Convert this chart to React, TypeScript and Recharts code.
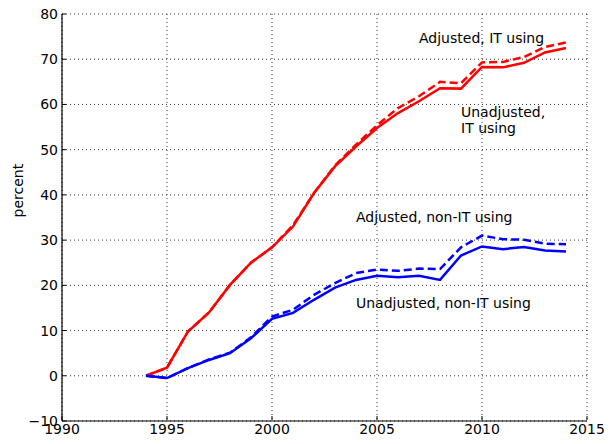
import { LineChart, Line, XAxis, YAxis, CartesianGrid, ReferenceDot } from "recharts";

const years = [1994, 1995, 1996, 1997, 1998, 1999, 2000, 2001, 2002, 2003, 2004, 2005, 2006, 2007, 2008, 2009, 2010, 2011, 2012, 2013, 2014];
const itUnadjusted = [0, 1.8, 9.8, 14, 20.1, 25, 28.4, 33, 40.4, 46.3, 50.7, 54.8, 58.1, 60.7, 63.6, 63.5, 68.3, 68.2, 69.2, 71.5, 72.5];
const itAdjusted = [0, 1.8, 9.8, 14, 20.1, 25, 28.4, 33.3, 40.4, 46.5, 51.1, 55.4, 59.2, 61.8, 65, 64.7, 69.3, 69.4, 70.5, 72.7, 73.7];
const nonItUnadjusted = [0, -0.5, 1.7, 3.5, 5, 8.3, 12.6, 13.9, 16.8, 19.5, 21.2, 22.1, 21.8, 22.1, 21.2, 26.6, 28.6, 28, 28.5, 27.7, 27.5];
const nonItAdjusted = [0, -0.5, 1.7, 3.6, 5.1, 8.5, 13.1, 14.6, 17.9, 20.5, 22.7, 23.5, 23.2, 23.7, 23.6, 28.4, 31, 30.2, 30.1, 29.2, 29.1];

const xTicks = [1990, 1995, 2000, 2005, 2010, 2015];
const yTicks = [-10, 0, 10, 20, 30, 40, 50, 60, 70, 80];

const notes = [
  { x: 2007, y: 74.8, text: "Adjusted, IT using" },
  { x: 2009, y: 58.4, text: "Unadjusted," },
  { x: 2009, y: 54.8, text: "IT using" },
  { x: 2004, y: 35.2, text: "Adjusted, non-IT using" },
  { x: 2004, y: 16.1, text: "Unadjusted, non-IT using" },
];

const data = years.map((year, i) => ({
  year,
  itU: itUnadjusted[i],
  itA: itAdjusted[i],
  nU: nonItUnadjusted[i],
  nA: nonItAdjusted[i],
}));

const font = "'DejaVu Sans', sans-serif";

const YTick = (props: any) => {
  const { x, y, payload } = props;
  const v = payload.value as number;
  return (
    <g>
      <line x1={x + 4} x2={x + 8} y1={y} y2={y} stroke="#000" strokeWidth={1} />
      <text x={x} y={y} textAnchor="end" dominantBaseline="central" fontSize={14} fontFamily={font} fill="#000">
        {v < 0 ? "\u2212" + Math.abs(v) : v}
      </text>
    </g>
  );
};

const XTick = (props: any) => {
  const { x, y, payload } = props;
  return (
    <g>
      <line x1={x} x2={x} y1={y - 4} y2={y - 8} stroke="#000" strokeWidth={1} />
      <text x={x} y={y} textAnchor="middle" dominantBaseline="hanging" fontSize={14} fontFamily={font} fill="#000">
        {payload.value}
      </text>
    </g>
  );
};

export default function App() {
  return (
    <div style={{ position: "absolute", left: 0, top: 0, background: "#fff" }}>
      <LineChart width={616} height={444} data={data} margin={{ top: 14, right: 29, bottom: 0, left: 0 }}>
        <CartesianGrid stroke="#000" strokeWidth={0.8} strokeDasharray="1 3" horizontalValues={yTicks} verticalValues={xTicks} />
        <XAxis
          dataKey="year"
          type="number"
          domain={[1990, 2015]}
          ticks={xTicks}
          height={23}
          tickSize={0}
          tickMargin={3}
          tick={<XTick />}
          axisLine={{ stroke: "#000", strokeWidth: 1.2 }}
          tickLine={false}
        />
        <YAxis
          type="number"
          domain={[-10, 80]}
          ticks={yTicks}
          width={62}
          tickSize={0}
          tickMargin={4}
          tick={<YTick />}
          axisLine={{ stroke: "#000", strokeWidth: 1.2 }}
          tickLine={false}
          label={{ value: "percent", angle: -90, position: "insideLeft", offset: 18, fontSize: 14, fontFamily: font, fill: "#000" }}
        />
        <Line dataKey="itA" stroke="#ff0000" strokeWidth={2.5} strokeDasharray="8 4" dot={false} isAnimationActive={false} />
        <Line dataKey="nA" stroke="#0000ff" strokeWidth={2.5} strokeDasharray="8 4" dot={false} isAnimationActive={false} />
        <Line dataKey="itU" stroke="#ff0000" strokeWidth={2.5} dot={false} isAnimationActive={false} />
        <Line dataKey="nU" stroke="#0000ff" strokeWidth={2.5} dot={false} isAnimationActive={false} />
        {notes.map((n) => (
          <ReferenceDot
            key={n.text + n.y}
            x={n.x}
            y={n.y}
            r={0}
            shape={(p: any) => (
              <text x={p.cx} y={p.cy} dominantBaseline="central" fontSize={14} fontFamily={font} fill="#000">
                {n.text}
              </text>
            )}
          />
        ))}
      </LineChart>
    </div>
  );
}
